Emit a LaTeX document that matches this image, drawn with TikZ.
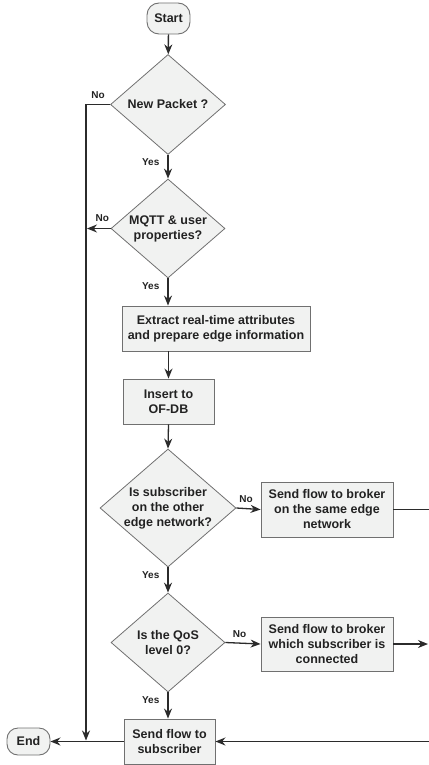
\documentclass[tikz,border=0pt]{standalone}
\usepackage{fontspec}
\setmainfont{Liberation Sans}
\usetikzlibrary{shapes.geometric,arrows.meta}
\definecolor{fillc}{HTML}{F1F2F1}
\definecolor{bordc}{HTML}{707070}
\definecolor{linec}{HTML}{2B2B2B}
\definecolor{textc}{HTML}{222222}
\begin{document}
\begin{tikzpicture}[x=1pt,y=-1pt,
  font=\fontsize{12.5}{15}\selectfont\bfseries,
  box/.style={draw=bordc, fill=fillc, line width=0.9pt, inner sep=0pt, align=center, text=textc},
  dia/.style={diamond, draw=bordc, fill=fillc, line width=0.8pt, inner sep=-3pt, align=center, text=textc},
  term/.style={draw=bordc, fill=fillc, rounded corners=12pt, line width=0.9pt, inner sep=0pt, text=textc},
  conn/.style={draw=linec, line width=1.3pt},
  arr/.style={conn, -{Stealth[length=10pt,width=8pt]}},
  lab/.style={font=\fontsize{10}{12}\selectfont\bfseries, text=textc, inner sep=2pt}
]
\useasboundingbox (0,0) rectangle (428,765);

\node[term, minimum width=43pt, minimum height=31pt] (start) at (168.5,18.5) {Start};
\node[dia, minimum width=115pt, minimum height=100pt] (np) at (168,104.5) {New Packet ?};
\node[dia, minimum width=114pt, minimum height=99pt] (mq) at (168,228.5) {MQTT \& user\\properties?};
\node[box, minimum width=188pt, minimum height=45pt] (ex) at (216,328.5) {Extract real-time attributes\\and prepare edge information};
\node[box, minimum width=91pt, minimum height=45pt] (db) at (168.5,401.5) {Insert to\\OF-DB};
\node[dia, minimum width=136pt, minimum height=118pt] (sub) at (168,508) {Is subscriber\\on the other\\edge network?};
\node[box, minimum width=132pt, minimum height=55pt] (b1) at (327,509.5) {Send flow to broker\\on the same edge\\network};
\node[dia, minimum width=114pt, minimum height=99pt] (qos) at (168,642.5) {Is the QoS\\level 0?};
\node[box, minimum width=132pt, minimum height=54pt] (b2) at (327,644) {Send flow to broker\\which subscriber is\\connected};
\node[box, minimum width=91pt, minimum height=45pt] (sf) at (169.5,741.5) {Send flow to\\subscriber};
\node[term, minimum width=43pt, minimum height=27pt, rounded corners=11pt] (end) at (28.5,741.5) {End};

\coordinate (nojoin) at (86,741.5);
\coordinate (mqno) at (87,228.5);
\coordinate (r1) at (430,509.5);
\coordinate (r2) at (428,644);
\coordinate (r3) at (430,741.5);

\draw[arr] (start) -- (np);
\draw[arr, shorten >=1pt] (np.west) -| node[lab, pos=0.25, above=3pt]{No} (nojoin);
\draw[arr] (np.south) -- node[lab, pos=0.3, left=6pt]{Yes} (mq.north);
\draw[arr] (mq.west) -- node[lab, pos=0.35, above=4pt]{No} (mqno);
\draw[arr] (mq.south) -- node[lab, pos=0.3, left=6pt]{Yes} (mq.south |- ex.north);
\draw[arr] (db.north |- ex.south) -- (db.north);
\draw[arr] (db.south) -- (sub.north);
\draw[arr] (sub.east) -- node[lab, pos=0.4, above=3pt]{No} (b1.west);
\draw[conn] (b1.east) -- (r1);
\draw[arr] (sub.south) -- node[lab, pos=0.3, left=6pt]{Yes} (qos.north);
\draw[arr] (qos.east) -- node[lab, pos=0.4, above=3pt]{No} (b2.west);
\draw[arr] (b2.east) -- (r2);
\draw[arr] (r3) -- (sf.east);
\draw[arr] (qos.south) -- node[lab, pos=0.3, left=6pt]{Yes} (qos.south |- sf.north);
\draw[arr] (sf.west) -- (end.east);
\end{tikzpicture}
\end{document}
